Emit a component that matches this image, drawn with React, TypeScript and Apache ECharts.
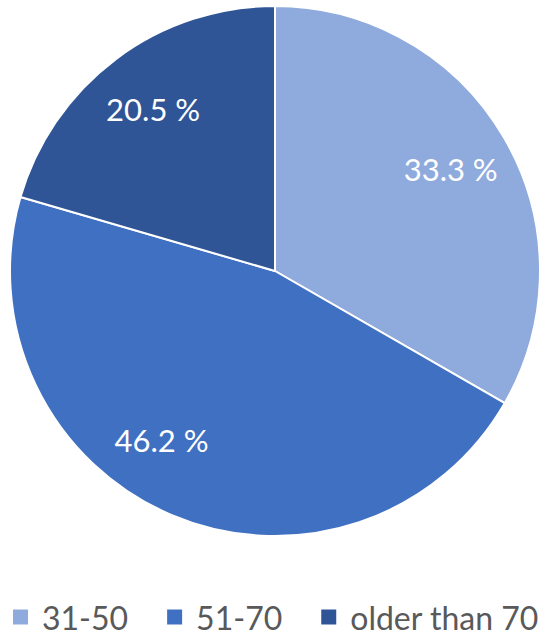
import React, { useEffect, useRef } from "react";
import * as echarts from "echarts";

const categories = ["31-50", "51-70", "older than 70"];
const values = [33.3, 46.2, 20.5];
const colors = ["#8FAADC", "#4070C2", "#2F5597"];

export default function App() {
  const ref = useRef<HTMLDivElement>(null);
  useEffect(() => {
    document.body.style.margin = "0";
    const chart = echarts.init(ref.current!, null, { renderer: "svg" });
    const data = categories.map((name, i) => ({
      name,
      value: values[i],
      itemStyle: { color: colors[i] },
    }));
    chart.setOption({
      animation: false,
      legend: {
        bottom: 3,
        left: "center",
        itemWidth: 17,
        itemHeight: 17,
        itemGap: 37,
        icon: "rect",
        textStyle: {
          fontFamily: "Lato",
          fontSize: 32,
          color: "#595959",
          padding: [0, 0, 0, 8],
        },
        data: categories,
      },
      series: [
        {
          type: "pie",
          center: [275, 271],
          radius: [0, 265],
          startAngle: 90,
          clockwise: true,
          data,
          label: { show: false },
          labelLine: { show: false },
          itemStyle: { borderColor: "#ffffff", borderWidth: 2 },
          silent: true,
        },
        {
          type: "pie",
          center: [275, 271],
          radius: [135, 265],
          startAngle: 90,
          clockwise: true,
          data: categories.map((name, i) => ({ name, value: values[i] })),
          itemStyle: { color: "rgba(0,0,0,0)" },
          silent: true,
          label: {
            show: true,
            position: "inside",
            formatter: (p: any) => p.value.toFixed(1) + " %",
            fontFamily: "Lato",
            fontSize: 31,
            color: "#ffffff",
          },
          labelLayout: (p: any) =>
            p.dataIndex === 1 ? { dx: -34, dy: -18 } : {},
          labelLine: { show: false },
        },
      ],
    });
    return () => chart.dispose();
  }, []);
  return <div ref={ref} style={{ width: 550, height: 641 }} />;
}
